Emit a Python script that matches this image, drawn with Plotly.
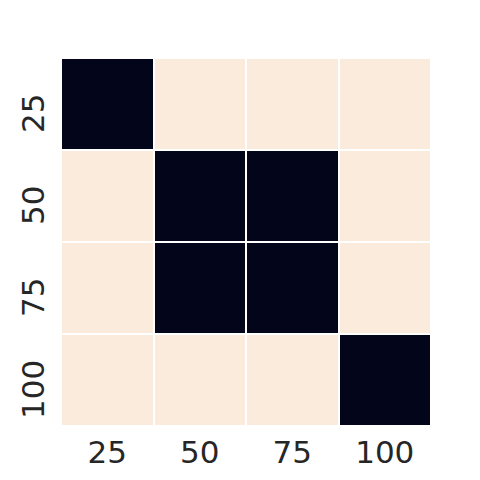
import plotly.graph_objects as go

labels = ["25", "50", "75", "100"]
values = [
    [1, 0, 0, 0],
    [0, 1, 1, 0],
    [0, 1, 1, 0],
    [0, 0, 0, 1],
]

fig = go.Figure(go.Heatmap(
    z=values, x=labels, y=labels,
    colorscale=[[0, "#FAEBDD"], [1, "#03051A"]],
    showscale=False, xgap=2, ygap=2, zmin=0, zmax=1,
    hoverongaps=False,
))
font = dict(family="DejaVu Sans", size=31, color="#262626")
fig.update_layout(
    width=480, height=480,
    margin=dict(l=53, r=57, t=50, b=62, autoexpand=False),
    plot_bgcolor="white", paper_bgcolor="white",
    font=font,
)
fig.update_xaxes(type="category", showgrid=False, zeroline=False, automargin=False,
                 ticks="", ticklabelstandoff=5, tickfont=font)
fig.update_yaxes(type="category", autorange="reversed", showgrid=False, automargin=False,
                 zeroline=False, ticks="", tickangle=-90,
                 ticklabelstandoff=10, ticklabelshift=-14, tickfont=font)
fig.write_html("out.html")
